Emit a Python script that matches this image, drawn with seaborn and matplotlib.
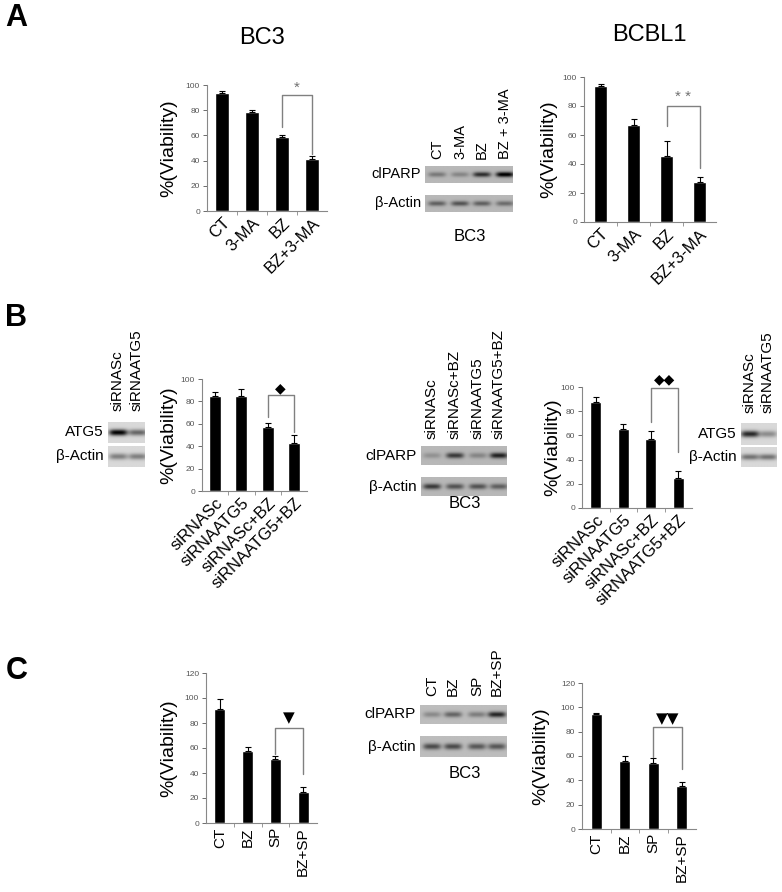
import matplotlib
matplotlib.use('Agg')
import matplotlib.pyplot as plt
import seaborn as sns
import pandas as pd
import numpy as np

# --- values ---
a_cats = ['CT', '3-MA', 'BZ', 'BZ+3-MA']
a_bc3_vals = [94, 78.5, 59, 41]
a_bc3_err = [1, 1.5, 1.5, 2.5]
a_bcbl1_vals = [93.5, 67, 45.5, 27.5]
a_bcbl1_err = [2, 4, 10.5, 3.5]

b_cats = ['siRNASc', 'siRNAATG5', 'siRNASc+BZ', 'siRNAATG5+BZ']
b_bc3_vals = [85, 84.5, 57.5, 43]
b_bc3_err = [3.5, 7, 3.5, 7]
b_bcbl1_vals = [87.4, 65.5, 56.8, 24.5]
b_bcbl1_err = [4, 4, 7, 6.3]

c_cats = ['CT', 'BZ', 'SP', 'BZ+SP']
c_bc3_vals = [91.5, 58, 51.5, 25]
c_bc3_err = [7.5, 3, 2, 4]
c_bcbl1_vals = [94.4, 56.2, 54, 35.5]
c_bcbl1_err = [1, 3.8, 4, 3]

# western blot band intensities (darkness per lane)
a_blot_lanes = ['CT', '3-MA', 'BZ', 'BZ + 3-MA']
a_parp = [0.25, 0.2, 0.55, 0.75]
a_actin = [0.35, 0.4, 0.35, 0.3]
b_side_lanes = ['siRNASc', 'siRNAATG5']
b_left_atg5 = [0.85, 0.45]
b_left_actin = [0.35, 0.35]
b_right_atg5 = [0.7, 0.3]
b_right_actin = [0.4, 0.4]
b_blot_lanes = ['siRNASc', 'siRNASc+BZ', 'siRNAATG5', 'siRNAATG5+BZ']
b_parp = [0.15, 0.5, 0.2, 0.6]
b_actin = [0.5, 0.4, 0.4, 0.35]
c_blot_lanes = ['CT', 'BZ', 'SP', 'BZ+SP']
c_parp = [0.2, 0.35, 0.25, 0.6]
c_actin = [0.45, 0.45, 0.4, 0.4]

sns.set_theme(style='white')
plt.rcParams['font.family'] = ['Liberation Sans', 'DejaVu Sans']
plt.rcParams['text.color'] = 'black'
plt.rcParams['axes.labelcolor'] = 'black'
plt.rcParams['xtick.color'] = 'black'

W, H = 782, 892
fig = plt.figure(figsize=(W / 100, H / 100), dpi=100)


def rect(x0, y0, x1, y1):
    return [x0 / W, 1 - y1 / H, (x1 - x0) / W, (y1 - y0) / H]


def ftext(x, y, s, **kw):
    fig.text(x / W, 1 - y / H, s, **kw)


def bar_panel(box, cats, vals, errs, ymax, width, rot, xfs, label_off,
              bracket, mark, mark_y, mark_kw):
    ax = fig.add_axes(rect(*box))
    df = pd.DataFrame({'cond': cats, 'val': vals})
    sns.barplot(data=df, x='cond', y='val', color='black', width=width,
                saturation=1, errorbar=None, ax=ax)
    n = len(cats)
    ax.errorbar(range(n), vals, yerr=[np.zeros(n), errs], fmt='none',
                ecolor='black', elinewidth=0.8, capsize=2, capthick=0.8)
    ax.set_xlim(-0.5, n - 0.5)
    ax.set_ylim(0, ymax)
    ax.set_yticks(np.arange(0, ymax + 1, 20))
    ax.tick_params(axis='y', labelsize=6, colors='#555555', length=3,
                   width=0.6, direction='out', left=True, pad=2)
    ax.tick_params(axis='x', length=0, pad=3, labelcolor='black')
    ax.set_xticks(range(n))
    if rot == 90:
        ax.set_xticklabels(cats, rotation=90, fontsize=xfs, ha='center', va='top')
    else:
        ax.set_xticklabels(cats, rotation=45, fontsize=xfs, ha='right',
                           rotation_mode='anchor')
    ax.set_xticks(np.arange(0.5, n - 0.5, 1), minor=True)
    ax.tick_params(axis='x', which='minor', length=3, width=0.6,
                   color='#888888', bottom=True, direction='out')
    for s in ['top', 'right']:
        ax.spines[s].set_visible(False)
    for s in ['left', 'bottom']:
        ax.spines[s].set_color('#888888')
        ax.spines[s].set_linewidth(0.8)
    ax.set_xlabel('')
    ax.set_ylabel('%(Viability)', fontsize=14, color='black')
    ax.yaxis.set_label_coords(-label_off / (box[2] - box[0]), 0.5)
    top, lb, rb = bracket
    ax.plot([2, 2, 3, 3], [lb, top, top, rb], color='#808080', lw=1,
            clip_on=False)
    ax.text(2.5, mark_y, mark, ha='center', va='center', **mark_kw)
    return ax


def blot(x0, x1, rows, lane_x, bg, lane_labels, label_bottom, lab_fs):
    for (y0, y1, name, intens) in rows:
        ax = fig.add_axes(rect(x0, y0, x1, y1))
        nx, ny = 300, 60
        X, Y = np.meshgrid(np.linspace(0, 1, nx), np.linspace(0, 1, ny))
        img = np.full_like(X, bg)
        bw = 9 / (x1 - x0)
        for lx, a in zip(lane_x, intens):
            xc = (lx - x0) / (x1 - x0)
            img -= a * np.exp(-((X - xc) / bw) ** 4) * np.exp(-((Y - 0.5) / 0.15) ** 2)
        ax.imshow(np.clip(img, 0, 1), cmap='gray', vmin=0, vmax=1,
                  aspect='auto', extent=(0, 1, 0, 1), interpolation='bilinear')
        ax.set_axis_off()
        ftext(x0 - 4, (y0 + y1) / 2, name, ha='right', va='center', fontsize=lab_fs)
    for lx, lab in zip(lane_x, lane_labels):
        ftext(lx, label_bottom, lab, rotation=90, ha='center', va='bottom',
              fontsize=lab_fs)


star_kw = dict(fontsize=11, color='#707070')
dia_kw = dict(fontsize=10, color='black', family='DejaVu Sans')
tri_kw = dict(fontsize=11, color='black', family='DejaVu Sans')

# ---- panel A ----
ftext(16, 18, 'A', fontsize=22, fontweight='bold', ha='center', va='center')
ftext(262, 38, 'BC3', fontsize=17, ha='center', va='center')
ftext(649, 35, 'BCBL1', fontsize=17, ha='center', va='center')
bar_panel((207, 85, 327, 211), a_cats, a_bc3_vals, a_bc3_err, 100, 0.48, 45, 12,
          30, (92, 67, 45), '*', 98, star_kw)
bar_panel((584, 77, 716, 222), a_cats, a_bcbl1_vals, a_bcbl1_err, 100, 0.42, 45, 12,
          27, (80, 66, 37), '* *', 86, star_kw)
blot(425, 513, [(166, 183, 'clPARP', a_parp), (195, 212, 'β-Actin', a_actin)],
     [437, 460, 482, 505], 0.72, a_blot_lanes, 159, 10.5)
ftext(470, 237, 'BC3', fontsize=12, ha='center', va='center')

# ---- panel B ----
ftext(16, 318, 'B', fontsize=22, fontweight='bold', ha='center', va='center')
bar_panel((202, 379, 307, 491), b_cats, b_bc3_vals, b_bc3_err, 100, 0.45, 45, 12,
          25, (86, 66, 53), '◆', 92, dia_kw)
bar_panel((582, 387, 692, 508), b_cats, b_bcbl1_vals, b_bcbl1_err, 100, 0.4, 45, 12,
          21, (99, 71, 46), '◆◆', 106, dia_kw)
blot(108, 144, [(422, 443, 'ATG5', b_left_atg5), (446, 467, 'β-Actin', b_left_actin)],
     [118, 137], 0.85, b_side_lanes, 411, 11)
blot(421, 507, [(446, 465, 'clPARP', b_parp), (477, 496, 'β-Actin', b_actin)],
     [432, 455, 478, 499], 0.72, b_blot_lanes, 439, 11)
ftext(465, 503, 'BC3', fontsize=12, ha='center', va='center')
blot(741, 777, [(423, 445, 'ATG5', b_right_atg5), (447, 467, 'β-Actin', b_right_actin)],
     [750, 768], 0.85, b_side_lanes, 413, 11)

# ---- panel C ----
ftext(17, 671, 'C', fontsize=22, fontweight='bold', ha='center', va='center')
bar_panel((206, 673, 317, 823), c_cats, c_bc3_vals, c_bc3_err, 120, 0.4, 90, 11,
          29, (76, 55, 39), '▼', 84, tri_kw)
bar_panel((582, 683, 696, 829), c_cats, c_bcbl1_vals, c_bcbl1_err, 120, 0.4, 90, 11,
          33, (84, 59, 49), '▼▼', 91, tri_kw)
blot(420, 507, [(705, 724, 'clPARP', c_parp), (736, 757, 'β-Actin', c_actin)],
     [432, 453, 477, 497], 0.74, c_blot_lanes, 696, 11)
ftext(465, 773, 'BC3', fontsize=12, ha='center', va='center')

plt.savefig('out.png', dpi=100)
